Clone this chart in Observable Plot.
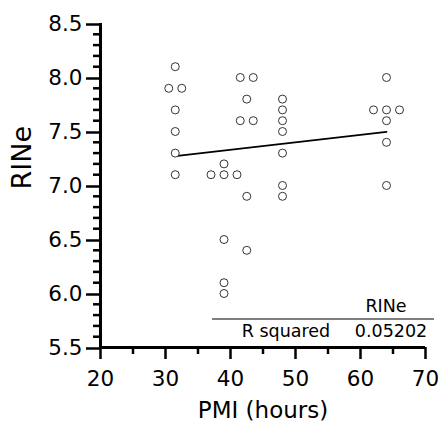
<!DOCTYPE html>
<html><head><meta charset="utf-8">
<script src="https://cdn.jsdelivr.net/npm/d3@7"></script>
<script src="https://cdn.jsdelivr.net/npm/@observablehq/plot@0.6"></script>
<style>body{margin:0;background:#fff}</style>
</head><body><div id="chart"></div>
<script>
// PMI (hours) and RINe values
const pmi = [31.5,31.5,31.5,31.5,31.5,31.5,31.5,
             39,39,39,39,39,39,39,
             42.5,42.5,42.5,42.5,42.5,42.5,42.5,
             48,48,48,48,48,48,48,
             64,64,64,64,64,64,64];
const rine = [8.1,7.9,7.9,7.7,7.5,7.3,7.1,
              7.2,7.1,7.1,7.1,6.5,6.1,6.0,
              8.0,8.0,7.8,7.6,7.6,6.9,6.4,
              7.8,7.7,7.6,7.5,7.3,7.0,6.9,
              8.0,7.7,7.7,7.7,7.6,7.4,7.0];
const xTicks = [20,30,40,50,60,70];
const xMinorTicks = [25,35,45,55,65];
const yTicks = [5.5,6.0,6.5,7.0,7.5,8.0,8.5];
const yMinorTicks = [5.6,5.7,5.8,5.9,6.1,6.2,6.3,6.4,6.6,6.7,6.8,6.9,7.1,7.2,7.3,7.4,7.6,7.7,7.8,7.9,8.1,8.2,8.3,8.4];
const xTitle = "PMI (hours)";
const yTitle = "RINe";
const tableHeader = "RINe";
const tableRowLabel = "R squared";
const tableRowValue = "0.05202";

// GraphPad-style horizontal spreading of coincident points
const groups = d3.group(d3.range(pmi.length), i => pmi[i] + "|" + rine[i]);
const spread = 2;
const data = [];
for (const idx of groups.values()) {
  idx.forEach((i, k) => data.push({pmi: pmi[i], rine: rine[i], xs: pmi[i] + (k - (idx.length - 1) / 2) * spread}));
}

const font = "'DejaVu Sans', 'Liberation Sans', Arial, sans-serif";
const plot = Plot.plot({
  width: 439, height: 437,
  marginLeft: 100, marginRight: 14, marginTop: 23, marginBottom: 90,
  style: {fontFamily: font, background: "white", color: "black"},
  x: {domain: [20, 70]},
  y: {domain: [5.5, 8.5]},
  marks: [
    Plot.axisY(yMinorTicks, {tickSize: 7, strokeWidth: 2.5, text: null, label: null}),
    Plot.axisY(yTicks, {tickSize: 14, tickPadding: 4, strokeWidth: 2.5, fontSize: 21.5, dy: 1, tickFormat: d3.format(".1f"), label: null}),
    Plot.axisX(xMinorTicks, {tickSize: 7, strokeWidth: 2.5, text: null, label: null}),
    Plot.axisX(xTicks, {tickSize: 12, tickPadding: 11, strokeWidth: 2.5, fontSize: 21.5, label: null}),
    Plot.ruleX([20], {y1: 5.5, y2: 8.5, strokeWidth: 3}),
    Plot.ruleY([5.5], {x1: 20, x2: 70, strokeWidth: 3}),
    Plot.linearRegressionY(data, {x: "pmi", y: "rine", ci: 0, stroke: "black", strokeWidth: 1.8}),
    Plot.dot(data, {x: "xs", y: "rine", r: 4, stroke: "#333", strokeWidth: 1, fill: "white"}),
    Plot.text([yTitle], {frameAnchor: "left", dx: -78, dy: 4, rotate: -90, fontSize: 27}),
    Plot.text([xTitle], {frameAnchor: "bottom", dy: 70, fontSize: 23})
  ]
});
document.getElementById("chart").append(plot);

// Results table annotation (bottom right)
const svg = d3.select(plot);
const g = svg.append("g").attr("font-family", font).attr("font-size", 17.5).attr("fill", "black").attr("text-anchor", "middle");
g.append("line").attr("x1", 212).attr("x2", 434).attr("y1", 319).attr("y2", 319).attr("stroke", "black").attr("stroke-width", 1.2);
g.append("text").attr("x", 386).attr("y", 312).text(tableHeader);
g.append("text").attr("x", 286).attr("y", 337).text(tableRowLabel);
g.append("text").attr("x", 391).attr("y", 337).text(tableRowValue);
</script>
</body></html>
